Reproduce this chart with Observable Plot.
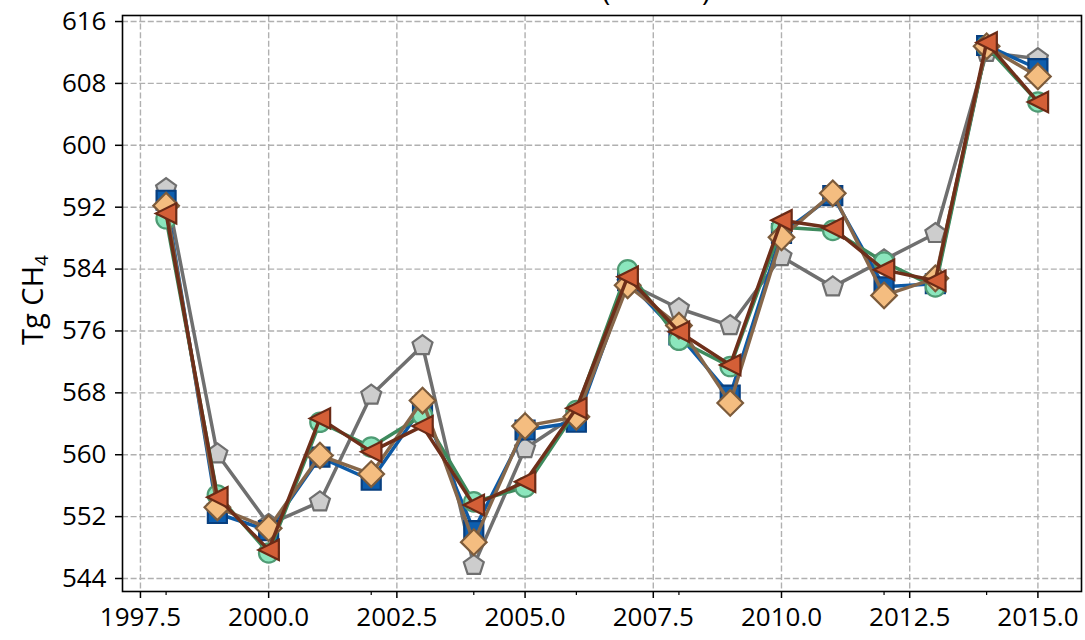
<!DOCTYPE html>
<html><head><meta charset="utf-8">
<script src="https://cdn.jsdelivr.net/npm/d3@7"></script>
<script src="https://cdn.jsdelivr.net/npm/@observablehq/plot@0.6"></script>
<style>
body{margin:0;background:#fff;font-family:"Open Sans",sans-serif;}
#wrap{position:relative;width:1085px;height:640px;overflow:hidden;background:#fff;}
#ylab{position:absolute;left:31px;top:300px;transform:translate(-50%,-50%) rotate(-90deg);font-size:29px;white-space:nowrap;color:#000;}
#ylab sub{font-size:19px;vertical-align:-5px;line-height:0;}
#title{position:absolute;left:0;top:0;}
</style></head><body><div id="wrap"><div id="ylab">Tg CH<sub>4</sub></div></div>
<script>
const years = [1998,1999,2000,2001,2002,2003,2004,2005,2006,2007,2008,2009,2010,2011,2012,2013,2014,2015];
const blueSquares   = [592.9,552.4,550.2,559.7,556.7,566.2,550.2,563.2,564.2,582.5,575.5,567.7,588.6,593.5,581.7,582.1,612.9,609.9];
const greenCircles  = [590.5,554.8,547.3,564.2,561.0,565.1,553.9,555.8,565.7,583.9,574.8,571.4,589.4,589.0,584.9,581.7,612.8,605.6];
const grayPentagons = [594.4,560.1,551.0,553.9,567.7,574.1,545.7,560.8,565.2,582.2,578.9,576.7,585.6,581.7,585.2,588.6,612.0,611.2];
const peachDiamonds = [592.2,553.2,550.5,559.9,557.5,567.0,548.7,563.7,564.9,581.9,576.7,566.7,588.1,593.8,580.6,582.8,612.8,608.9];
const redTriangles  = [591.2,554.5,547.7,564.7,560.4,563.7,553.5,556.5,566.0,583.0,575.9,571.6,590.3,589.3,583.9,582.5,613.3,605.6];
const xMajorTicks = [1997.5,2000,2002.5,2005,2007.5,2010,2012.5,2015];
const xMinorTicks = [1998,2002,2004,2006,2008,2012,2014];
const yTicks = [544,552,560,568,576,584,592,600,608,616];

// custom symbols (radius derived from Plot's size = r*r*PI)
const R = (size) => Math.sqrt(size / Math.PI);
const symSquare = {draw(c, s){const r=R(s)*0.95; c.rect(-r,-r,2*r,2*r);}};
const symCircle = {draw(c, s){const r=R(s)*0.97; c.moveTo(r,0); c.arc(0,0,r,0,2*Math.PI);}};
const symPentagon = {draw(c, s){const r=R(s)*1.05; for(let k=0;k<5;k++){const a=-Math.PI/2+k*2*Math.PI/5; const x=r*Math.cos(a), y=r*Math.sin(a); k?c.lineTo(x,y):c.moveTo(x,y);} c.closePath();}};
const symDiamond = {draw(c, s){const r=R(s)*1.28; c.moveTo(0,-r); c.lineTo(r,0); c.lineTo(0,r); c.lineTo(-r,0); c.closePath();}};
const symLeftTri = {draw(c, s){const r=R(s)*1.02; c.moveTo(-r,0); c.lineTo(r,-r); c.lineTo(r,r); c.closePath();}};

const series = [
  {name:"gray",  values:grayPentagons, symbol:symPentagon, fill:"#cdcdcd", edge:"#6f6f6f", line:"#6f6f6f"},
  {name:"blue",  values:blueSquares,   symbol:symSquare,   fill:"#0d5eae", edge:"#083f7f", line:"#0d5aa6"},
  {name:"green", values:greenCircles,  symbol:symCircle,   fill:"#8be6bd", edge:"#4f9b74", line:"#3e8a5d"},
  {name:"peach", values:peachDiamonds, symbol:symDiamond,  fill:"#f4bd80", edge:"#7c5b3b", line:"#86674a"},
  {name:"red",   values:redTriangles,  symbol:symLeftTri,  fill:"#d45f37", edge:"#6a2a16", line:"#6e2f1a"}
];

const grid = {stroke:"#b0b0b0", strokeOpacity:1, strokeWidth:1.4, strokeDasharray:"6,2.6"};
const marks = [
  Plot.gridX(xMajorTicks, grid),
  Plot.gridY(yTicks, grid)
];
for (const s of series) {
  const rows = years.map((y, i) => ({year: y, value: s.values[i]}));
  marks.push(Plot.line(rows, {x:"year", y:"value", stroke:s.line, strokeWidth:3.5}));
  marks.push(Plot.dot(rows, {x:"year", y:"value", symbol:s.symbol, r:10, fill:s.fill, stroke:s.edge, strokeWidth:2.2}));
}
marks.push(Plot.frame({stroke:"black", strokeWidth:1.6}));
marks.push(Plot.axisY(yTicks, {tickSize:7, tickPadding:9, tickFormat:d=>String(d), label:null, stroke:"black", strokeWidth:1.5}));
marks.push(Plot.axisX(xMajorTicks, {tickSize:7, tickPadding:9, tickFormat:d=>d.toFixed(1), label:null, stroke:"black", strokeWidth:1.5}));
marks.push(Plot.axisX(xMinorTicks, {tickSize:4, tickFormat:()=>"", label:null, stroke:"black", strokeWidth:1.2}));

const chart = Plot.plot({
  width:1085, height:640,
  marginLeft:122, marginRight:4, marginTop:15, marginBottom:49,
  x:{domain:[1997.15,2015.85]},
  y:{domain:[542.32,616.78]},
  style:{fontFamily:"Open Sans", fontSize:"26px", color:"black", background:"white"},
  marks
});
const wrap = document.getElementById("wrap");
wrap.insertBefore(chart, wrap.firstChild);

// partially visible title (cut off at top in the reference)
const t = document.createElementNS("http://www.w3.org/2000/svg","svg");
t.setAttribute("id","title"); t.setAttribute("width","1085"); t.setAttribute("height","20");
t.innerHTML = '<text x="602" y="1" font-family="Open Sans" font-size="28">(</text><text x="702" y="1" font-family="Open Sans" font-size="28">)</text>';
wrap.appendChild(t);
</script>
</body></html>
